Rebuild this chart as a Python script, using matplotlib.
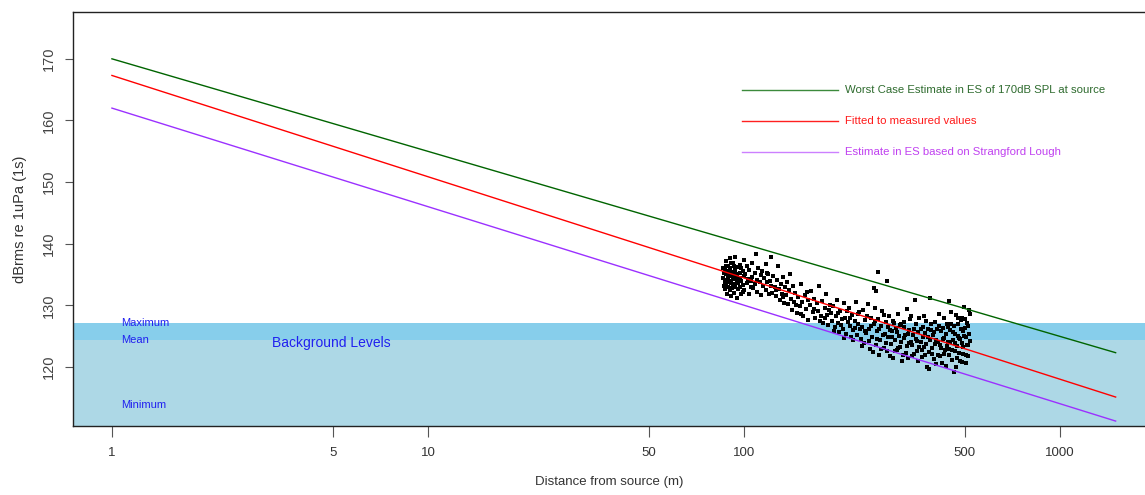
import matplotlib
matplotlib.use('Agg')
import matplotlib.pyplot as plt

plt.rcParams['font.family'] = ['Liberation Sans', 'DejaVu Sans']

# model lines: value at 1 m and at 1500 m
line_dist = [1, 1500]
worst_case = [170.0, 122.3]
fitted = [167.3, 115.1]
strangford = [162.0, 111.2]

# background levels
bg_max = 127.1
bg_mean = 124.4
bg_min = 113.8

# measured values (distance m, dBrms)
meas_dist = [
    86, 86, 86.5, 87, 87, 87.5, 88, 88, 88, 88.5, 89, 89, 89, 89.5, 90, 90, 90, 90.5, 91, 91, 91, 91.5, 92, 92, 92,
    93, 93, 93.5, 94, 94, 94.5, 95, 95, 95.5, 96, 96, 97, 97, 97.5, 98, 98, 99, 99, 100, 100, 100,
    101, 102, 102, 103, 104, 104, 105, 106, 106, 107, 108, 108, 109, 110, 110, 111, 112, 113, 113, 114, 115,
    116, 117, 117, 118, 119, 120, 121, 122, 122, 123, 124, 125, 126, 127, 128, 129, 130, 131, 132, 133, 134, 135,
    136, 137, 138, 139, 140, 141, 142, 143, 144, 145, 147, 148, 150, 151, 153, 154, 156, 157, 159, 160,
    162, 163, 165, 166, 168, 170, 171, 173, 175, 176, 178, 180, 182, 183, 185, 187, 189, 190,
    192, 194, 195, 197, 199, 200, 202, 204, 206, 207, 209, 211, 213, 215, 216, 218, 220, 222, 224, 226, 228, 230,
    232, 234, 236, 238, 240, 242, 244, 246, 248, 250, 252, 255, 257, 258, 259, 261, 262, 264, 265, 266, 268, 270,
    272, 274, 277, 279, 282, 284, 284, 286, 288, 290,
    292, 294, 296, 298, 300, 303, 305, 307, 310, 312, 315, 317, 320, 322, 325, 328, 330, 333, 335, 338, 341, 344,
    347, 350, 353, 356, 359,
    362, 365, 368, 371, 374, 377, 380, 383, 386, 388, 391, 394, 397, 400, 403, 406, 410, 413, 416, 420, 423, 426,
    430, 433, 436, 440,
    443, 445, 447, 450, 453, 456, 459, 462, 465, 468, 471, 474, 477, 480, 483, 486, 489, 492, 495, 498, 500, 503,
    506, 509, 512, 515, 518, 520,
]
meas_db = [
    134.5, 136.0, 133.2, 135.8, 132.6, 134.1, 137.2, 135.0, 133.5, 131.9, 136.3, 134.6, 133.0, 135.5, 137.6, 134.0,
    132.4, 135.9, 133.6, 136.8, 131.5, 134.8, 133.1, 135.4, 136.9,
    134.2, 132.0, 135.7, 133.4, 137.9, 134.9, 131.2, 133.8, 136.2, 134.4, 132.7, 135.2, 133.0, 136.6, 134.0, 131.8,
    135.6, 133.3, 134.7, 137.3, 132.5,
    135.1, 133.6, 136.4, 134.3, 131.9, 135.8, 133.9, 136.9, 134.6, 132.8, 135.3, 133.4, 138.3, 134.1, 132.2, 136.0,
    133.7, 134.9, 131.6, 135.6, 133.1,
    134.4, 136.7, 132.5, 133.8, 135.1, 131.9, 134.0, 137.9, 133.2, 132.0, 134.7, 133.0, 131.5, 134.1, 136.4, 132.6,
    130.9, 133.5, 131.8, 134.6, 130.4, 132.9,
    131.6, 133.8, 130.2, 132.4, 135.0, 131.0, 129.3, 133.1, 130.6, 132.0, 128.8, 131.4, 129.9, 133.4, 130.5, 128.3,
    131.7, 129.4, 130.8, 127.6,
    130.1, 132.3, 128.9, 131.0, 127.9, 130.3, 129.0, 133.2, 128.2, 130.7, 127.1, 129.5, 131.8, 128.4, 126.8, 130.0,
    128.7, 127.5,
    129.8, 126.5, 128.3, 130.9, 127.2, 125.6, 129.1, 127.8, 126.2, 130.4, 128.0, 125.4, 127.3, 129.6, 126.7, 124.9,
    128.4, 126.0, 127.5, 130.6, 125.2, 127.0,
    128.9, 124.6, 126.4, 129.3, 123.8, 127.6, 125.5, 130.2, 126.1, 122.9, 128.0, 124.8, 126.9, 132.8, 129.6, 132.3,
    123.5, 125.9, 135.4, 127.8, 121.9, 124.3,
    126.6, 129.0, 123.1, 125.4, 127.3, 134.0, 122.6, 124.9, 128.2, 126.0,
    123.7, 125.8, 121.4, 127.1, 124.4, 126.3, 122.8, 128.6, 125.0, 123.2, 127.0, 121.0, 124.7, 126.5, 122.3, 129.4,
    125.3, 123.9, 127.7, 124.1, 121.8, 126.2, 130.9, 124.6, 122.5, 125.7, 127.9,
    124.0, 121.6, 126.4, 123.3, 125.5, 127.4, 120.0, 124.8, 122.4, 131.2, 126.0, 123.0, 125.1, 121.2, 127.3, 124.3,
    122.0, 126.7, 123.6, 125.9, 120.6, 124.6, 127.9, 122.8, 125.3, 123.4,
    126.5, 130.7, 121.9, 124.1, 127.0, 122.7, 125.7, 119.1, 123.8, 128.4, 121.5, 125.0, 126.9, 122.3, 124.5, 127.6,
    120.8, 125.8, 123.2, 129.7, 126.3, 122.0, 124.9, 127.1, 123.6, 125.4, 128.6, 124.2,
]

# further measured values, second pass over the scatter
meas_dist2 = [
    86.5, 87, 87.5, 88, 89, 89.5, 90, 91, 91.5, 92.5, 93, 94, 95, 96, 97, 98, 99,
    105, 118, 126, 133, 146, 152, 158, 167, 174, 181, 186, 193, 198, 203, 208, 212, 217, 221, 225, 229,
    233, 237, 241, 245, 249, 253, 256, 260, 263, 267, 271, 275, 278, 281, 285, 289, 293, 297, 301, 304,
    308, 311, 314, 318, 321, 324, 327, 331, 334, 337, 340, 343, 346, 349, 352, 355, 358, 363, 366, 369,
    372, 375, 378, 382, 385, 389, 392, 395, 399, 402, 405, 408, 412, 415, 418, 421, 425, 428, 431, 435,
    438, 442, 446, 449, 452, 455, 458, 461, 464, 467, 470, 473, 476, 479, 482, 485, 488, 491, 494, 497,
    501, 504, 507, 510, 513, 516,
]
meas_db2 = [
    135.2, 133.8, 136.4, 132.9, 135.0, 133.7, 136.1, 134.9, 132.8, 134.6, 136.3, 133.0, 135.0, 133.6, 134.5,
    136.0, 132.2,
    132.9, 135.3, 132.4, 131.3, 130.0, 128.6, 132.2, 129.4, 127.4, 128.0, 129.2, 125.9, 128.8, 126.8, 124.7,
    129.0, 127.9, 124.4, 126.3, 128.6,
    126.2, 123.4, 125.9, 128.3, 124.2, 126.7, 122.4, 127.4, 124.5, 126.2, 122.9, 125.1, 128.4, 123.9, 126.4,
    121.8, 124.9, 127.5, 122.6, 125.6,
    123.0, 126.8, 124.0, 122.0, 127.3, 125.1, 123.4, 121.5, 126.0, 128.2, 123.6, 125.2, 122.1, 126.9, 124.2,
    120.9, 123.3, 126.1, 122.7, 124.9,
    128.3, 121.9, 123.7, 126.2, 119.6, 124.4, 127.0, 122.1, 125.6, 123.7, 120.5, 126.1, 124.0, 128.6, 121.8,
    123.1, 126.3, 122.1, 124.7, 120.2,
    127.0, 124.0, 122.9, 126.0, 128.9, 121.1, 124.3, 126.6, 122.6, 125.3, 119.9, 123.4, 127.9, 124.7, 121.0,
    126.2, 123.8, 128.0, 122.1, 125.0,
    127.7, 120.6, 123.5, 126.6, 121.7, 129.2,
]

legend_labels = ['Worst Case Estimate in ES of 170dB SPL at source',
                 'Fitted to measured values',
                 'Estimate in ES based on Strangford Lough']
legend_y = [164.9, 159.9, 154.8]
line_colors = ['#006400', '#FF0000', '#9B30FF']
legend_line_colors = ['#3C8A3C', '#FF2020', '#CC80FF']
text_colors = ['#2E6B2E', '#FF1A1A', '#C040F0']

fig = plt.figure(figsize=(11.45, 4.95), dpi=100)
ax = fig.add_axes([73 / 1145, 69 / 495, 1 - 73 / 1145, 414 / 495])

ax.set_xscale('log')
ax.set_xlim(0.753, 1858)
ax.set_ylim(110.4, 177.6)

# background bands
ax.axhspan(110.4, bg_mean, color='#ADD8E6', lw=0, zorder=0)
ax.axhspan(bg_mean, bg_max, color='#87CEEB', lw=0, zorder=0)
ax.text(1.07, bg_max, 'Maximum', color='#2020F0', fontsize=8, va='center')
ax.text(1.07, bg_mean, 'Mean', color='#2020F0', fontsize=8, va='center')
ax.text(1.07, bg_min, 'Minimum', color='#2020F0', fontsize=8, va='center')
ax.text(3.21, 123.9, 'Background Levels', color='#2020F0', fontsize=10, va='center')

ax.scatter(meas_dist + meas_dist2, meas_db + meas_db2, marker='s', s=5, color='black', lw=0, zorder=3)

# lines sit on top of the points
for vals, c in zip([worst_case, fitted, strangford], line_colors):
    ax.plot(line_dist, vals, color=c, lw=1.0, zorder=4)

# legend drawn as in the original
for y, lab, lc, tc in zip(legend_y, legend_labels, legend_line_colors, text_colors):
    ax.plot([98.6, 198], [y, y], color=lc, lw=1.0)
    ax.text(209, y, lab, color=tc, fontsize=8.2, va='center')

ax.spines['right'].set_visible(False)
for s in ['left', 'top', 'bottom']:
    ax.spines[s].set_linewidth(1.0)
    ax.spines[s].set_color('#222222')

xt = [1, 5, 10, 50, 100, 500, 1000]
ax.set_xticks(xt)
ax.set_xticklabels([str(v) for v in xt], fontsize=9.5, color='#333333')
ax.xaxis.set_minor_locator(matplotlib.ticker.NullLocator())
ax.tick_params(axis='x', length=8, width=0.8, colors='#555555', pad=7, labelcolor='#333333')

yt = [120, 130, 140, 150, 160, 170]
ax.set_yticks(yt)
ax.set_yticklabels([str(v) for v in yt], rotation=90, va='center', fontsize=10.5, color='#444444')
ax.tick_params(axis='y', length=6, width=0.8, colors='#555555', pad=6, labelcolor='#444444')

ax.set_xlabel('Distance from source (m)', fontsize=9.5, color='#333333', labelpad=12)
ax.set_ylabel('dBrms re 1uPa (1s)', fontsize=10.5, color='#333333', labelpad=11)

fig.savefig('out.png', dpi=100)
